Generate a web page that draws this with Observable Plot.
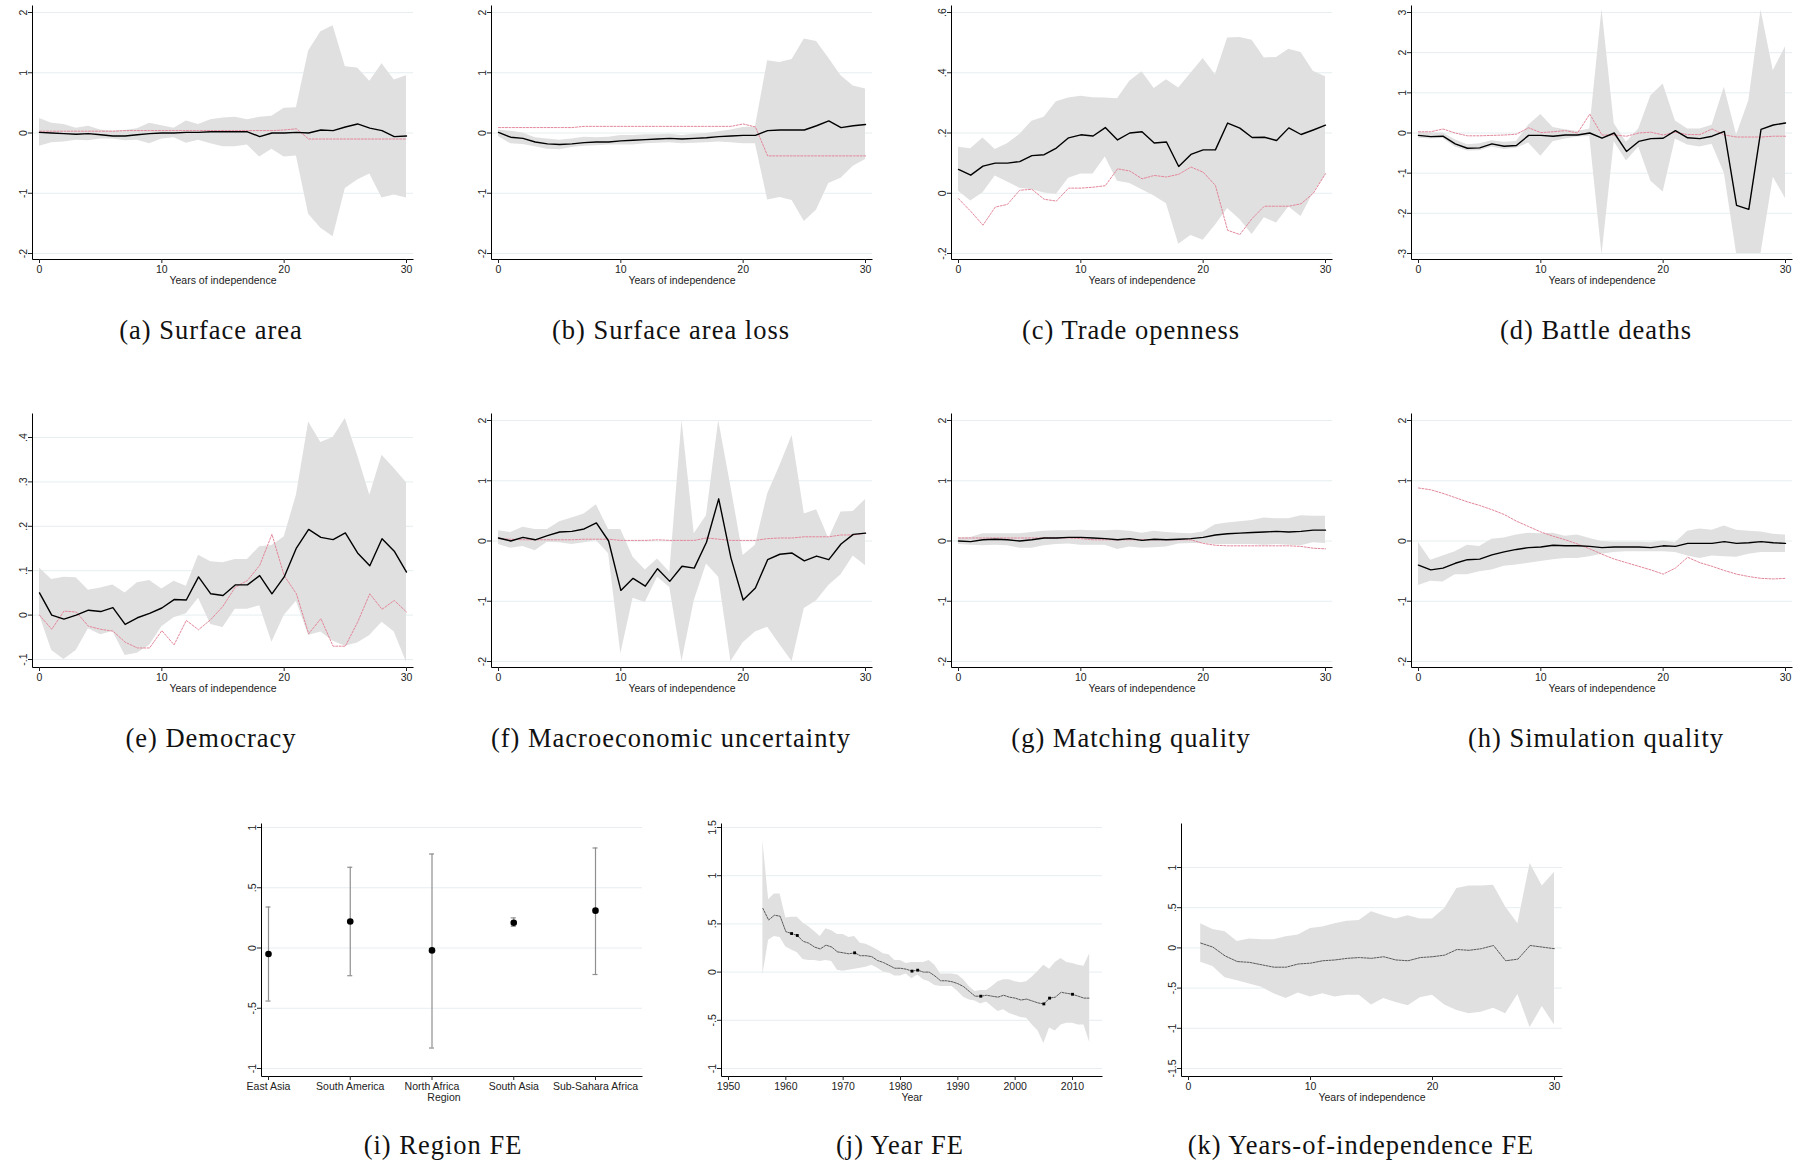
<!DOCTYPE html>
<html><head><meta charset="utf-8">
<script src="https://cdn.jsdelivr.net/npm/d3@7"></script>
<script src="https://cdn.jsdelivr.net/npm/@observablehq/plot@0.6"></script>
<style>
html,body{margin:0;padding:0;background:#fff}
body{width:1805px;height:1161px;position:relative;overflow:hidden}
.panel{position:absolute}
.panel svg{overflow:visible;max-width:none}
.cap{position:absolute;width:600px;text-align:center;font-family:"Liberation Serif","Times New Roman",serif;font-size:26.5px;letter-spacing:1px;color:#111;transform:translate(-50%,-50%);white-space:nowrap}
</style></head><body>
<script>
// ---------------- DATA ----------------
const yearsOfIndependence = [0,1,2,3,4,5,6,7,8,9,10,11,12,13,14,15,16,17,18,19,20,21,22,23,24,25,26,27,28,29,30];
const xTicksIndep = [0,10,20,30];

// (a) Surface area
const aEst = [0.01,0.0,-0.01,-0.02,-0.01,-0.03,-0.05,-0.05,-0.03,-0.01,0.0,0.0,0.01,0.01,0.02,0.02,0.02,0.02,-0.06,0.0,0.0,0.01,0.0,0.05,0.04,0.1,0.15,0.08,0.04,-0.06,-0.05];
const aHi  = [0.24,0.16,0.14,0.08,0.11,0.05,0.03,0.04,0.07,0.16,0.12,0.08,0.2,0.14,0.22,0.25,0.26,0.22,0.26,0.28,0.41,0.42,1.36,1.68,1.78,1.1,1.08,0.86,1.15,0.88,0.95];
const aLo  = [-0.22,-0.16,-0.15,-0.12,-0.13,-0.1,-0.1,-0.13,-0.12,-0.18,-0.1,-0.08,-0.17,-0.12,-0.18,-0.23,-0.23,-0.2,-0.4,-0.27,-0.4,-0.38,-1.35,-1.58,-1.72,-0.92,-0.78,-0.68,-1.08,-1.03,-1.08];
const aRed = [0.03,0.03,0.03,0.03,0.03,0.03,0.03,0.04,0.04,0.04,0.04,0.04,0.04,0.04,0.04,0.04,0.04,0.04,0.04,0.04,0.05,0.07,-0.1,-0.1,-0.1,-0.1,-0.1,-0.1,-0.1,-0.1,-0.1];

// (b) Surface area loss
const bEst = [0.01,-0.07,-0.09,-0.15,-0.18,-0.19,-0.18,-0.16,-0.15,-0.15,-0.13,-0.12,-0.11,-0.1,-0.09,-0.1,-0.09,-0.08,-0.06,-0.05,-0.04,-0.04,0.04,0.05,0.05,0.05,0.12,0.2,0.09,0.12,0.14];
const bHi  = [0.05,0.03,0.0,-0.08,-0.1,-0.12,-0.1,-0.07,-0.08,-0.07,-0.04,-0.04,-0.03,-0.03,-0.02,-0.04,-0.02,-0.01,0.02,0.05,0.09,0.1,1.2,1.17,1.22,1.56,1.52,1.24,0.95,0.78,0.73];
const bLo  = [-0.06,-0.18,-0.19,-0.23,-0.27,-0.28,-0.24,-0.22,-0.21,-0.2,-0.2,-0.2,-0.18,-0.17,-0.16,-0.18,-0.17,-0.16,-0.15,-0.16,-0.18,-0.18,-1.11,-1.07,-1.12,-1.47,-1.28,-0.84,-0.75,-0.55,-0.44];
const bRed = [0.09,0.09,0.09,0.09,0.09,0.09,0.09,0.11,0.11,0.11,0.11,0.11,0.11,0.11,0.11,0.11,0.11,0.11,0.11,0.11,0.15,0.1,-0.38,-0.38,-0.38,-0.38,-0.38,-0.38,-0.38,-0.38,-0.38];

// (c) Trade openness
const cEst = [0.079,0.06,0.09,0.1,0.1,0.105,0.125,0.128,0.15,0.184,0.194,0.19,0.218,0.177,0.2,0.204,0.167,0.17,0.089,0.129,0.144,0.144,0.233,0.216,0.185,0.186,0.175,0.217,0.195,0.21,0.226];
const cHi  = [0.153,0.148,0.183,0.145,0.164,0.195,0.239,0.252,0.304,0.316,0.322,0.317,0.316,0.314,0.372,0.403,0.348,0.377,0.349,0.398,0.447,0.393,0.515,0.517,0.508,0.449,0.451,0.478,0.467,0.405,0.387];
const cLo  = [0.007,-0.026,0.002,0.057,0.037,0.017,0.012,0.001,-0.004,0.05,0.064,0.064,0.12,0.04,0.032,0.012,-0.009,-0.035,-0.169,-0.14,-0.156,-0.106,-0.051,-0.087,-0.137,-0.081,-0.099,-0.046,-0.077,0.0,0.059];
const cRed = [-0.018,-0.06,-0.106,-0.046,-0.037,0.01,0.013,-0.02,-0.026,0.017,0.017,0.02,0.025,0.081,0.074,0.048,0.059,0.054,0.063,0.087,0.07,0.026,-0.123,-0.137,-0.084,-0.043,-0.043,-0.043,-0.035,0.0,0.065];

// (d) Battle deaths
const dEst = [-0.06,-0.09,-0.08,-0.27,-0.38,-0.37,-0.27,-0.33,-0.31,-0.06,-0.06,-0.08,-0.05,-0.05,0.0,-0.13,0.0,-0.46,-0.21,-0.14,-0.13,0.06,-0.12,-0.14,-0.08,0.04,-1.8,-1.9,0.09,0.2,0.25];
const dHi  = [0.02,0.0,0.0,-0.17,-0.29,-0.27,-0.19,-0.23,-0.21,0.19,0.46,0.14,0.08,0.04,0.1,3.08,0.23,-0.23,0.1,0.93,1.22,0.3,0.1,0.1,0.19,1.14,-0.05,0.8,3.06,1.55,2.15];
const dLo  = [-0.13,-0.15,-0.14,-0.35,-0.45,-0.44,-0.35,-0.41,-0.38,-0.25,-0.58,-0.22,-0.15,-0.1,-0.09,-3.04,-0.22,-0.7,-0.35,-1.2,-1.47,-0.15,-0.3,-0.35,-0.28,-1.0,-3.0,-3.0,-3.0,-1.1,-1.63];
const dRed = [0.03,0.03,0.1,0.0,-0.07,-0.07,-0.06,-0.05,-0.03,0.13,0.01,0.03,0.06,0.0,0.47,-0.05,-0.05,-0.08,0.0,0.02,-0.05,0.02,-0.04,-0.04,0.1,-0.05,-0.1,-0.1,-0.1,-0.08,-0.08];

// (e) Democracy
const eEst = [0.05,0.0,-0.009,0.0,0.011,0.008,0.017,-0.021,-0.006,0.004,0.016,0.035,0.034,0.086,0.048,0.044,0.068,0.068,0.089,0.048,0.086,0.151,0.193,0.175,0.17,0.185,0.14,0.111,0.172,0.144,0.097];
const eHi  = [0.106,0.08,0.085,0.084,0.056,0.061,0.068,0.05,0.073,0.078,0.059,0.076,0.065,0.135,0.12,0.118,0.125,0.125,0.154,0.157,0.176,0.27,0.435,0.389,0.4,0.443,0.36,0.27,0.36,0.33,0.298];
const eLo  = [0.0,-0.08,-0.1,-0.08,-0.031,-0.044,-0.037,-0.091,-0.086,-0.068,-0.026,-0.006,0.003,0.038,-0.021,-0.028,0.013,0.013,0.021,-0.061,-0.001,0.031,-0.046,-0.038,-0.059,-0.07,-0.063,-0.046,-0.016,-0.038,-0.106];
const eRed = [0.0,-0.032,0.009,0.007,-0.025,-0.032,-0.036,-0.061,-0.074,-0.074,-0.035,-0.067,-0.012,-0.033,-0.01,0.02,0.063,0.078,0.112,0.182,0.089,0.048,-0.042,-0.008,-0.07,-0.07,-0.016,0.048,0.013,0.033,0.007];

// (f) Macroeconomic uncertainty
const fEst = [0.05,0.0,0.06,0.02,0.09,0.15,0.16,0.2,0.3,0.0,-0.82,-0.62,-0.75,-0.46,-0.67,-0.42,-0.45,-0.02,0.7,-0.28,-0.98,-0.78,-0.31,-0.22,-0.2,-0.33,-0.25,-0.31,-0.05,0.11,0.13];
const fHi  = [0.17,0.14,0.23,0.19,0.19,0.32,0.38,0.45,0.6,0.19,0.19,-0.27,-0.48,-0.3,-0.52,2.0,0.12,0.42,2.0,0.9,-0.24,-0.07,0.78,1.25,1.75,0.45,0.52,0.04,0.48,0.49,0.69];
const fLo  = [-0.06,-0.12,-0.09,-0.16,-0.02,-0.03,-0.06,-0.03,0.01,-0.21,-1.87,-0.95,-1.02,-0.6,-0.77,-2.0,-0.99,-0.38,-0.6,-2.0,-1.69,-1.51,-1.43,-1.72,-2.0,-1.12,-0.99,-0.74,-0.56,-0.25,-0.41];
const fRed = [0.04,0.03,0.02,0.02,0.02,0.02,0.02,0.03,0.03,0.03,0.01,0.01,0.01,0.02,0.01,0.01,0.01,0.05,0.03,0.01,0.01,0.01,0.04,0.05,0.05,0.07,0.07,0.07,0.1,0.1,0.13];

// (g) Matching quality
const gEst = [0.0,-0.01,0.02,0.03,0.02,0.0,0.02,0.05,0.05,0.06,0.06,0.05,0.04,0.02,0.04,0.01,0.03,0.02,0.03,0.04,0.06,0.1,0.12,0.13,0.14,0.15,0.16,0.15,0.16,0.18,0.18];
const gHi  = [0.05,0.06,0.12,0.12,0.12,0.12,0.14,0.16,0.17,0.17,0.18,0.17,0.17,0.18,0.16,0.13,0.16,0.14,0.13,0.12,0.15,0.27,0.3,0.32,0.34,0.38,0.37,0.37,0.42,0.41,0.41];
const gLo  = [-0.06,-0.07,-0.08,-0.07,-0.08,-0.12,-0.12,-0.08,-0.06,-0.05,-0.07,-0.07,-0.07,-0.14,-0.1,-0.12,-0.11,-0.1,-0.05,-0.04,-0.04,-0.06,-0.06,-0.06,-0.06,-0.07,-0.06,-0.07,-0.08,-0.03,-0.04];
const gRed = [0.05,0.05,0.05,0.05,0.05,0.05,0.05,0.05,0.05,0.05,0.04,0.02,0.02,0.02,0.02,0.02,0.02,0.02,0.02,0.02,-0.04,-0.07,-0.08,-0.08,-0.08,-0.08,-0.08,-0.08,-0.09,-0.12,-0.13];

// (h) Simulation quality
const hEst = [-0.4,-0.48,-0.45,-0.37,-0.31,-0.3,-0.23,-0.18,-0.14,-0.11,-0.1,-0.07,-0.08,-0.08,-0.09,-0.11,-0.1,-0.1,-0.1,-0.11,-0.08,-0.09,-0.04,-0.04,-0.04,-0.01,-0.04,-0.03,-0.01,-0.03,-0.04];
const hHi  = [-0.03,-0.32,-0.25,-0.18,-0.07,-0.09,0.03,0.05,0.1,0.13,0.12,0.13,0.08,0.1,0.04,-0.01,-0.02,-0.02,-0.02,-0.03,0.0,-0.03,0.16,0.2,0.18,0.25,0.18,0.16,0.15,0.11,0.1];
const hLo  = [-0.74,-0.67,-0.68,-0.56,-0.56,-0.51,-0.48,-0.42,-0.4,-0.37,-0.34,-0.31,-0.29,-0.29,-0.26,-0.22,-0.19,-0.18,-0.18,-0.18,-0.18,-0.19,-0.25,-0.29,-0.25,-0.26,-0.27,-0.22,-0.19,-0.19,-0.19];
const hRed = [0.88,0.85,0.79,0.72,0.65,0.59,0.52,0.44,0.33,0.24,0.15,0.08,0.02,-0.05,-0.13,-0.22,-0.3,-0.36,-0.42,-0.48,-0.55,-0.45,-0.27,-0.36,-0.42,-0.49,-0.55,-0.59,-0.62,-0.63,-0.62];

// (i) Region FE
const regions   = ["East Asia","South America","North Africa","South Asia","Sub-Sahara Africa"];
const regionEst = [-0.05,0.22,-0.02,0.21,0.31];
const regionHi  = [0.34,0.67,0.78,0.25,0.83];
const regionLo  = [-0.44,-0.23,-0.83,0.18,-0.22];

// (j) Year FE
const jYears = [1956,1957,1958,1959,1960,1961,1962,1963,1964,1965,1966,1967,1968,1969,1970,1971,1972,1973,1974,1975,1976,1977,1978,1979,1980,1981,1982,1983,1984,1985,1986,1987,1988,1989,1990,1991,1992,1993,1994,1995,1996,1997,1998,1999,2000,2001,2002,2003,2004,2005,2006,2007,2008,2009,2010,2011,2012,2013];
const jEst = [0.66,0.54,0.59,0.58,0.42,0.40,0.38,0.32,0.30,0.26,0.24,0.28,0.26,0.21,0.20,0.19,0.20,0.17,0.17,0.16,0.12,0.10,0.07,0.04,0.04,0.03,0.01,0.02,0.00,0.00,-0.04,-0.09,-0.09,-0.10,-0.12,-0.15,-0.20,-0.25,-0.25,-0.24,-0.25,-0.26,-0.24,-0.26,-0.27,-0.29,-0.28,-0.30,-0.32,-0.33,-0.27,-0.26,-0.21,-0.22,-0.23,-0.25,-0.27,-0.27];
const jHi  = [1.36,0.75,0.81,0.81,0.56,0.57,0.57,0.51,0.47,0.42,0.37,0.45,0.43,0.39,0.39,0.36,0.37,0.30,0.29,0.26,0.23,0.19,0.18,0.12,0.12,0.09,0.10,0.10,0.10,0.12,0.07,-0.02,-0.02,-0.02,-0.03,-0.08,-0.15,-0.20,-0.19,-0.19,-0.15,-0.10,-0.08,-0.08,-0.10,-0.11,-0.10,-0.05,0.01,0.07,0.03,0.10,0.14,0.10,0.09,0.07,0.06,0.19];
const jLo  = [-0.03,0.33,0.37,0.36,0.26,0.23,0.20,0.13,0.12,0.12,0.11,0.12,0.11,0.02,0.01,0.02,0.03,0.04,0.05,0.07,0.04,0.00,-0.01,-0.04,-0.04,-0.02,-0.07,-0.03,-0.08,-0.10,-0.14,-0.15,-0.15,-0.15,-0.20,-0.26,-0.29,-0.30,-0.33,-0.31,-0.36,-0.41,-0.39,-0.43,-0.45,-0.47,-0.48,-0.55,-0.61,-0.74,-0.58,-0.61,-0.55,-0.53,-0.53,-0.55,-0.55,-0.73];
const jMarked = [1961,1962,1972,1982,1983,1994,2005,2006,2010];

// (k) Years-of-independence FE
const kYears = [1,2,3,4,5,6,7,8,9,10,11,12,13,14,15,16,17,18,19,20,21,22,23,24,25,26,27,28,29,30];
const kEst = [0.06,0.01,-0.1,-0.17,-0.18,-0.21,-0.24,-0.24,-0.2,-0.19,-0.16,-0.15,-0.13,-0.12,-0.13,-0.11,-0.15,-0.16,-0.12,-0.11,-0.09,-0.02,-0.03,-0.01,0.03,-0.16,-0.14,0.03,0.01,-0.01];
const kHi  = [0.3,0.23,0.2,0.08,0.11,0.1,0.1,0.14,0.16,0.24,0.26,0.3,0.33,0.34,0.45,0.4,0.36,0.4,0.36,0.36,0.49,0.74,0.77,0.77,0.78,0.51,0.3,1.05,0.77,0.94];
const kLo  = [-0.18,-0.23,-0.37,-0.41,-0.45,-0.49,-0.57,-0.63,-0.56,-0.61,-0.57,-0.61,-0.59,-0.59,-0.71,-0.63,-0.68,-0.72,-0.62,-0.59,-0.71,-0.78,-0.82,-0.8,-0.75,-0.82,-0.58,-0.99,-0.73,-0.96];

const captions = [
  "(a) Surface area","(b) Surface area loss","(c) Trade openness","(d) Battle deaths",
  "(e) Democracy","(f) Macroeconomic uncertainty","(g) Matching quality","(h) Simulation quality",
  "(i) Region FE","(j) Year FE","(k) Years-of-independence FE"
];

// ---------------- STYLE / LAYOUT ----------------
const FW = 381, ML = 32, MR = 16, MT = 5, MB = 36;
const FILL = "#e0e0e0", GRID = "#e6eef0", RED = "#e3879b";
const styleObj = {fontFamily: '"Liberation Sans", Arial, sans-serif', fontSize: "10.5px", color: "#222", background: "transparent", overflow: "visible"};
const fmt = v => { if (v === 0) return "0"; const s = String(+(+v).toFixed(2)); return s.replace(/^(-?)0\./, "$1."); };

function place(svg, left, top) {
  const div = document.createElement("div");
  div.className = "panel";
  div.style.left = left + "px";
  div.style.top = top + "px";
  div.appendChild(svg);
  document.body.appendChild(div);
}

function axesMarks(FH, yTicks, xTicks, xFmt, xTitle, titleDx = 0) {
  return [
    Plot.frame({stroke: "#000", strokeWidth: 1, fill: "none", strokeDasharray: `0 ${FW + FH} ${FW + FH} 0`}),
    Plot.axisY(yTicks, {tickSize: 4, tickPadding: 2, tickRotate: -90, tickFormat: fmt, label: null, fill: "#222"}),
    Plot.axisX(xTicks, {tickSize: 4, tickPadding: 2, tickFormat: xFmt, label: null, fill: "#222"}),
    Plot.text([xTitle], {frameAnchor: "bottom", dy: 24, dx: titleDx, fontSize: 10.5, fill: "#222"})
  ];
}

function ciPanel({left, top, FH = 254, est, hi, lo, red, yDomain, yTicks, insetTop, insetBottom}) {
  const rows = yearsOfIndependence.map((t, i) => ({t, est: est[i], hi: hi[i], lo: lo[i], red: red[i]}));
  const svg = Plot.plot({
    width: ML + FW + MR, height: MT + FH + MB,
    marginLeft: ML, marginRight: MR, marginTop: MT, marginBottom: MB,
    style: styleObj,
    x: {domain: [0, 30], insetLeft: 7, insetRight: 7},
    y: {domain: yDomain, insetTop, insetBottom},
    marks: [
      Plot.ruleY(yTicks, {stroke: GRID, strokeWidth: 1}),
      Plot.areaY(rows, {x: "t", y1: "lo", y2: "hi", fill: FILL, clip: true}),
      Plot.line(rows, {x: "t", y: "red", stroke: RED, strokeWidth: 1, strokeDasharray: "2,1.5", clip: true}),
      Plot.line(rows, {x: "t", y: "est", stroke: "#000", strokeWidth: 1.4, clip: true}),
      ...axesMarks(FH, yTicks, xTicksIndep, d => d, "Years of independence")
    ]
  });
  place(svg, left, top);
}

const colLeft = [0, 459, 919, 1379];
const row1Top = 0, row2Top = 408, row3Top = 818;
const ticks2 = [-2, -1, 0, 1, 2];

ciPanel({left: colLeft[0], top: row1Top, est: aEst, hi: aHi, lo: aLo, red: aRed, yDomain: [-2, 2], yTicks: ticks2, insetTop: 7, insetBottom: 6});
ciPanel({left: colLeft[1], top: row1Top, est: bEst, hi: bHi, lo: bLo, red: bRed, yDomain: [-2, 2], yTicks: ticks2, insetTop: 7, insetBottom: 6});
ciPanel({left: colLeft[2], top: row1Top, est: cEst, hi: cHi, lo: cLo, red: cRed, yDomain: [-0.2, 0.6], yTicks: [-0.2, 0, 0.2, 0.4, 0.6], insetTop: 7, insetBottom: 6});
ciPanel({left: colLeft[3], top: row1Top, est: dEst, hi: dHi, lo: dLo, red: dRed, yDomain: [-3, 3], yTicks: [-3, -2, -1, 0, 1, 2, 3], insetTop: 7, insetBottom: 6});

ciPanel({left: colLeft[0], top: row2Top, est: eEst, hi: eHi, lo: eLo, red: eRed, yDomain: [-0.1, 0.4], yTicks: [-0.1, 0, 0.1, 0.2, 0.3, 0.4], insetTop: 24, insetBottom: 8});
ciPanel({left: colLeft[1], top: row2Top, est: fEst, hi: fHi, lo: fLo, red: fRed, yDomain: [-2, 2], yTicks: ticks2, insetTop: 7, insetBottom: 6});
ciPanel({left: colLeft[2], top: row2Top, est: gEst, hi: gHi, lo: gLo, red: gRed, yDomain: [-2, 2], yTicks: ticks2, insetTop: 7, insetBottom: 6});
ciPanel({left: colLeft[3], top: row2Top, est: hEst, hi: hHi, lo: hLo, red: hRed, yDomain: [-2, 2], yTicks: ticks2, insetTop: 7, insetBottom: 6});

// (i) Region FE
{
  const FH = 253;
  const rows = regions.map((r, i) => ({i, r, est: regionEst[i], hi: regionHi[i], lo: regionLo[i]}));
  const yt = [-1, -0.5, 0, 0.5, 1];
  const svg = Plot.plot({
    width: ML + FW + MR, height: MT + FH + MB,
    marginLeft: ML, marginRight: MR, marginTop: MT, marginBottom: MB,
    style: styleObj,
    x: {domain: [0, regions.length - 1], insetLeft: 7, insetRight: 47},
    y: {domain: [-1, 1], insetTop: 4, insetBottom: 8},
    marks: [
      Plot.ruleY(yt, {stroke: GRID, strokeWidth: 1}),
      Plot.ruleX(rows, {x: "i", y1: "lo", y2: "hi", stroke: "#8f8f8f", strokeWidth: 1.2}),
      Plot.ruleY(rows, {y: "hi", x1: "i", x2: "i", insetLeft: -2.5, insetRight: -2.5, stroke: "#8f8f8f", strokeWidth: 1.2}),
      Plot.ruleY(rows, {y: "lo", x1: "i", x2: "i", insetLeft: -2.5, insetRight: -2.5, stroke: "#8f8f8f", strokeWidth: 1.2}),
      Plot.dot(rows, {x: "i", y: "est", r: 3.3, fill: "#000", stroke: "none"}),
      ...axesMarks(FH, yt, rows.map(d => d.i), i => regions[i], "Region", -8)
    ]
  });
  place(svg, 229, row3Top);
}

// (j) Year FE
{
  const FH = 253;
  const rows = jYears.map((y, i) => ({y, est: jEst[i], hi: jHi[i], lo: jLo[i]}));
  const yt = [-1, -0.5, 0, 0.5, 1, 1.5];
  const svg = Plot.plot({
    width: ML + FW + MR, height: MT + FH + MB,
    marginLeft: ML, marginRight: MR, marginTop: MT, marginBottom: MB,
    style: styleObj,
    x: {domain: [1950, 2010], insetLeft: 7, insetRight: 30},
    y: {domain: [-1, 1.5], insetTop: 4, insetBottom: 8},
    marks: [
      Plot.ruleY(yt, {stroke: GRID, strokeWidth: 1}),
      Plot.areaY(rows, {x: "y", y1: "lo", y2: "hi", fill: FILL}),
      Plot.line(rows, {x: "y", y: "est", stroke: "#5a5a5a", strokeWidth: 1, strokeDasharray: "2,1.2"}),
      Plot.dot(rows.filter(d => jMarked.includes(d.y)), {x: "y", y: "est", symbol: "square", r: 1.6, fill: "#000", stroke: "none"}),
      ...axesMarks(FH, yt, [1950, 1960, 1970, 1980, 1990, 2000, 2010], d => String(d), "Year")
    ]
  });
  place(svg, 689, row3Top);
}

// (k) Years-of-independence FE
{
  const FH = 253;
  const rows = kYears.map((t, i) => ({t, est: kEst[i], hi: kHi[i], lo: kLo[i]}));
  const yt = [-1.5, -1, -0.5, 0, 0.5, 1];
  const svg = Plot.plot({
    width: ML + FW + MR, height: MT + FH + MB,
    marginLeft: ML, marginRight: MR, marginTop: MT, marginBottom: MB,
    style: styleObj,
    x: {domain: [0, 30], insetLeft: 7, insetRight: 8},
    y: {domain: [-1.5, 1], insetTop: 44, insetBottom: 8},
    marks: [
      Plot.ruleY(yt, {stroke: GRID, strokeWidth: 1}),
      Plot.areaY(rows, {x: "t", y1: "lo", y2: "hi", fill: FILL}),
      Plot.line(rows, {x: "t", y: "est", stroke: "#5a5a5a", strokeWidth: 1, strokeDasharray: "2,1.2"}),
      ...axesMarks(FH, yt, xTicksIndep, d => d, "Years of independence")
    ]
  });
  place(svg, 1149, row3Top);
}

// captions
const capPos = [
  [211, 330], [671, 330], [1131, 330], [1596, 330],
  [211, 738], [671, 738], [1131, 738], [1596, 738],
  [443, 1145], [900, 1145], [1361, 1145]
];
captions.forEach((c, i) => {
  const d = document.createElement("div");
  d.className = "cap";
  d.style.left = capPos[i][0] + "px";
  d.style.top = capPos[i][1] + "px";
  d.textContent = c;
  document.body.appendChild(d);
});
</script>
</body></html>
